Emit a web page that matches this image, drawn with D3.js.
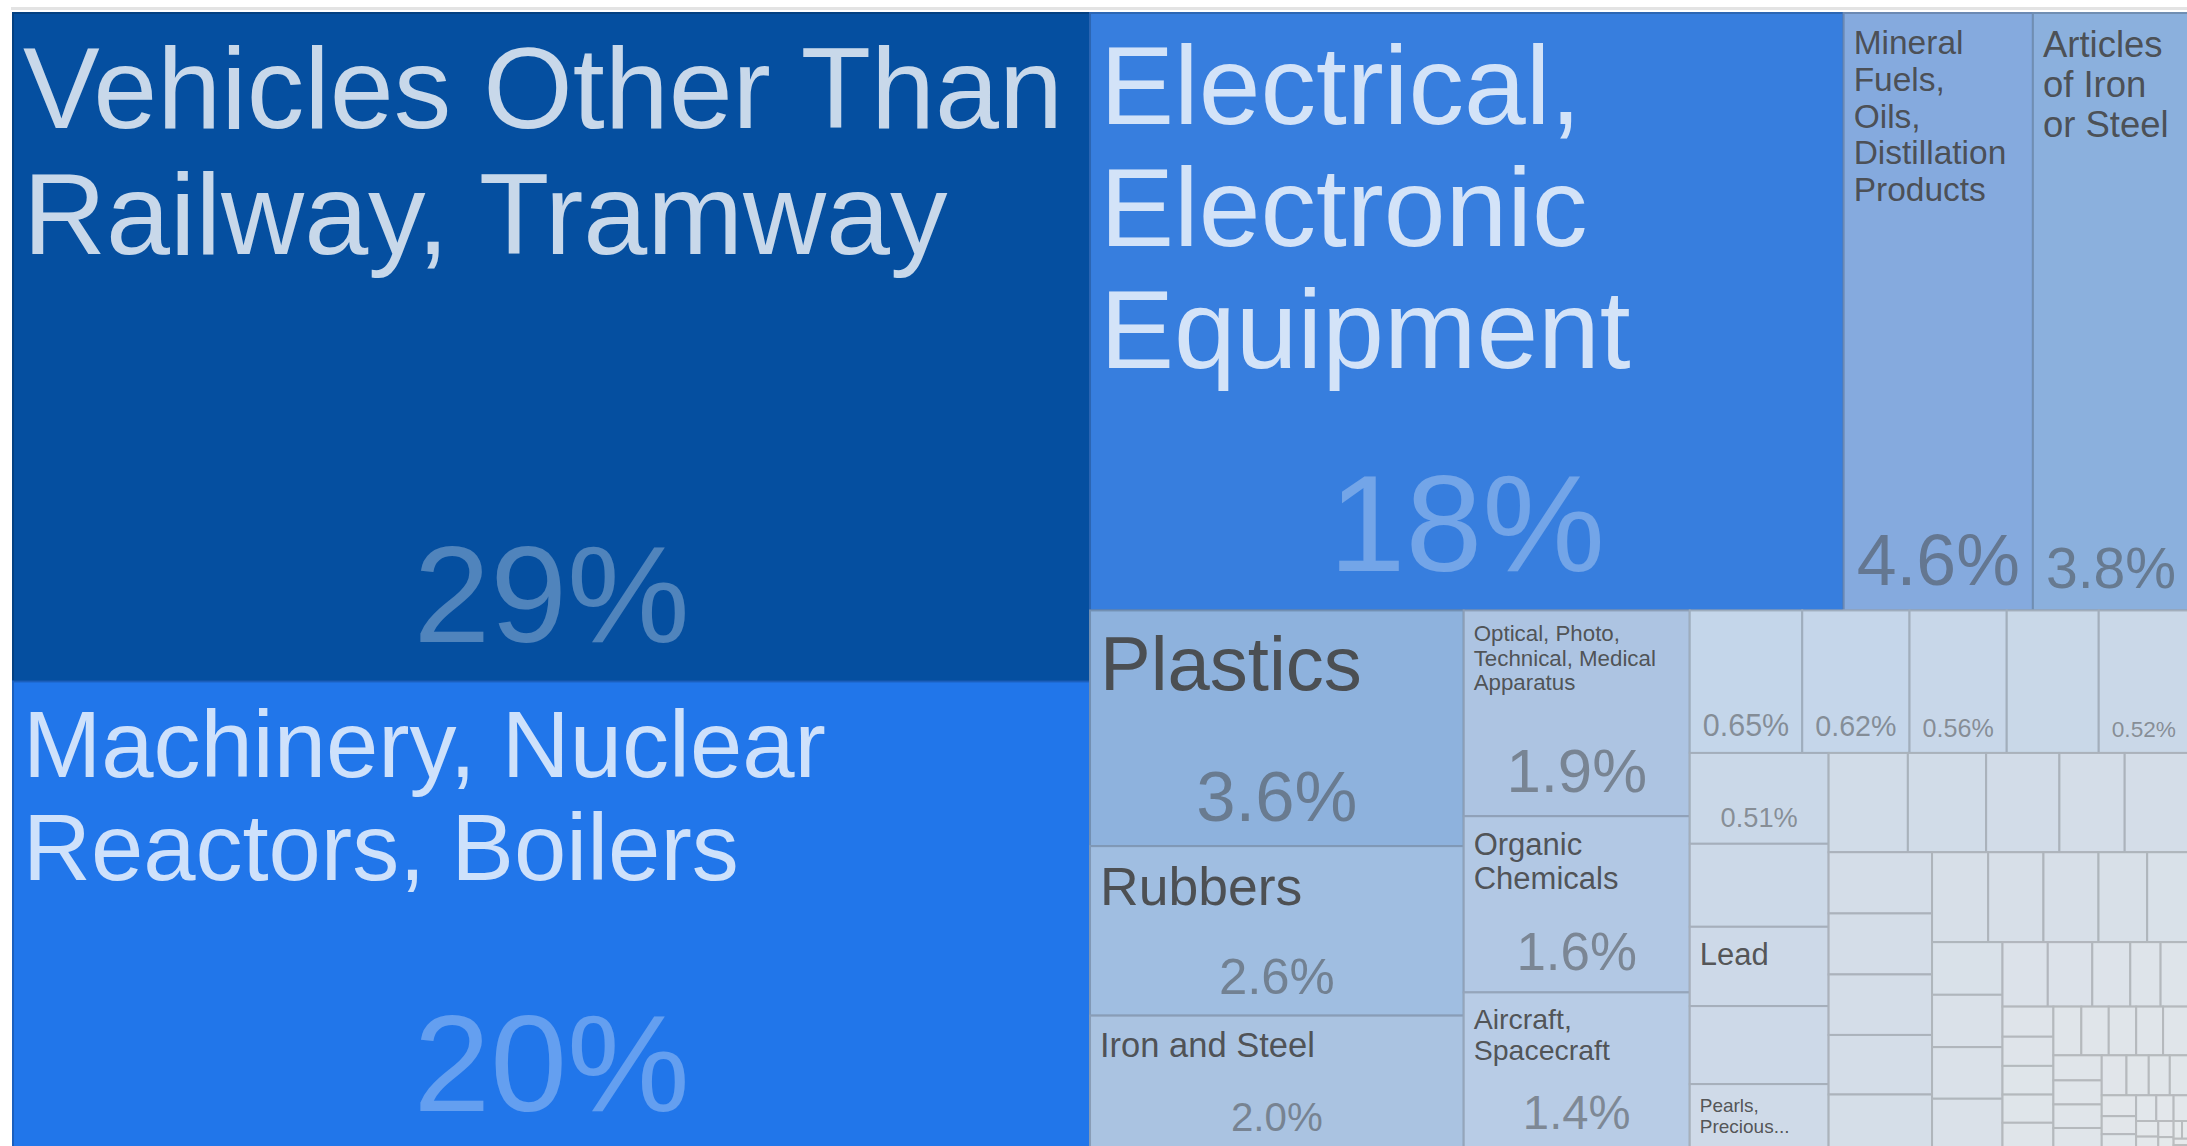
<!DOCTYPE html>
<html>
<head>
<meta charset="utf-8">
<script src="https://cdn.jsdelivr.net/npm/d3@7"></script>
<style>
html, body { margin: 0; padding: 0; background: #ffffff; overflow: hidden; }
svg { display: block; }
text { font-family: "Liberation Sans", Arial, Helvetica, sans-serif; }
</style>
</head>
<body>
<svg id="chart" width="2187" height="1146"></svg>
<script>
// ---------------- DATA (shares of total, %) ----------------
// named categories (the remaining, smaller cells carry no visible name)
const categories = [
  "Vehicles Other Than Railway, Tramway",
  "Machinery, Nuclear Reactors, Boilers",
  "Electrical, Electronic Equipment",
  "Mineral Fuels, Oils, Distillation Products",
  "Articles of Iron or Steel",
  "Plastics",
  "Rubbers",
  "Iron and Steel",
  "Optical, Photo, Technical, Medical Apparatus",
  "Organic Chemicals",
  "Aircraft, Spacecraft",
  "", "", "", "", "",
  "", "", "Lead", "", "Pearls, Precious Stones, Metals"
];
const shares = [
  29.1, 20.4, 18.2, 4.57, 3.77, 3.56, 2.56, 2.03, 1.88, 1.61, 1.44,
  0.648, 0.618, 0.56, 0.53, 0.52,
  0.51, 0.466, 0.445, 0.438, 0.37,
  0.318, 0.314, 0.294, 0.262, 0.258,
  0.256, 0.255, 0.253, 0.249, 0.232,
  0.204, 0.201, 0.200, 0.177, 0.152,
  0.150, 0.149, 0.147, 0.146,
  0.118, 0.116, 0.099, 0.079, 0.074,
  0.062, 0.060, 0.059, 0.058, 0.056,
  0.055, 0.054, 0.054, 0.053, 0.051,
  0.049, 0.047, 0.046, 0.043, 0.040, 0.036, 0.034, 0.031, 0.029, 0.025, 0.022,
  0.021, 0.018, 0.016, 0.014, 0.012, 0.010, 0.008, 0.006, 0.005, 0.004, 0.003
];
// which cells display their share label
const shareShown = [
  true, true, true, true, true, true, true, true, true, true, true,
  true, true, true, false, true,
  true
];

// ---------------- STYLE ----------------
const nameFontSize = {
  "Vehicles Other Than Railway, Tramway": 115,
  "Machinery, Nuclear Reactors, Boilers": 94,
  "Electrical, Electronic Equipment": 111,
  "Mineral Fuels, Oils, Distillation Products": 33.5,
  "Articles of Iron or Steel": 36.5,
  "Plastics": 76,
  "Rubbers": 53.5,
  "Iron and Steel": 34.5,
  "Optical, Photo, Technical, Medical Apparatus": 22.3,
  "Organic Chemicals": 31,
  "Aircraft, Spacecraft": 28.5,
  "Lead": 31,
  "Pearls, Precious Stones, Metals": 19
};
const colorStops = [0.003, 0.05, 0.1, 0.2, 0.3, 0.5, 0.64, 1.44, 1.6, 2.0, 2.56, 3.6, 4.57, 18.2, 20.4, 29.1];
const colorRange = ["#e8ebec", "#e0e5ea", "#dde3ea", "#d7dfe8", "#d2dce8", "#cbd8e8", "#c4d6ea",
  "#b8cce6", "#b2c8e4", "#abc3e1", "#a0bee1", "#8db2dd", "#85aade", "#377ede", "#2176ea", "#054fa0"];

const X0 = 13, Y0 = 13, W = 2176, H = 1137;
const FONT = '"Liberation Sans", Arial, Helvetica, sans-serif';

const color = d3.scaleLog().domain(colorStops).range(colorRange).clamp(true);
const fmt = d3.format(".2r");

const data = shares.map((v, i) => ({ name: categories[i] || "", value: v, show: !!shareShown[i] }));
const root = d3.hierarchy({ children: data })
  .sum(d => d.value || 0)
  .sort((a, b) => b.value - a.value);
d3.treemap().tile(d3.treemapSquarify).size([W, H]).round(false)(root);

const svg = d3.select("#chart");
// thin grey rule above the chart
svg.append("rect").attr("x", 11).attr("y", 7).attr("width", 2176).attr("height", 3).attr("fill", "#e3e3e3");

const g = svg.append("g").attr("transform", `translate(${X0},${Y0})`);

const ctx = document.createElement("canvas").getContext("2d");
function tw(str, size) {
  ctx.font = `100px ${FONT}`;
  return ctx.measureText(str).width * size / 100;
}
function wrap(str, size, maxW) {
  const words = str.split(" ");
  const lines = [];
  let line = "";
  for (const w of words) {
    const t = line ? line + " " + w : w;
    if (!line || tw(t, size) <= maxW) line = t;
    else { lines.push(line); line = w; }
  }
  if (line) lines.push(line);
  return lines;
}

const leaves = root.leaves();
const cell = g.selectAll("g.cell").data(leaves).join("g").attr("class", "cell");

cell.append("rect")
  .attr("x", d => d.x0).attr("y", d => d.y0)
  .attr("width", d => Math.max(0, d.x1 - d.x0))
  .attr("height", d => Math.max(0, d.y1 - d.y0))
  .attr("fill", d => color(d.value))
  .attr("stroke", d => d3.color(color(d.value)).darker(0.6))
  .attr("stroke-width", 2);

function isDark(d) { return d3.hsl(color(d.value)).l < 0.6; }

const PAD_X = 10, PAD_Y = 10.5, LINE = 1.1;

// name labels
cell.each(function (d) {
  const size = nameFontSize[d.data.name];
  if (!size) return;
  const w = d.x1 - d.x0, h = d.y1 - d.y0;
  let lines = wrap(d.data.name, size, w - 22);
  const lh = LINE * size;
  const maxLines = Math.max(1, Math.floor((h - PAD_Y - 0.905 * size - 0.212 * size) / lh) + 1);
  if (lines.length > maxLines) {
    lines = lines.slice(0, maxLines);
    lines[maxLines - 1] = lines[maxLines - 1] + "...";
  }
  const dark = isDark(d);
  const t = d3.select(this).append("text")
    .attr("font-size", size)
    .attr("fill", dark ? "#ffffff" : "#444444")
    .attr("fill-opacity", dark ? 0.78 : 0.9);
  lines.forEach((ln, i) => {
    t.append("tspan")
      .attr("x", d.x0 + PAD_X)
      .attr("y", d.y0 + PAD_Y + 0.905 * size + i * lh)
      .text(ln);
  });
});

// share labels
cell.each(function (d) {
  if (!d.data.show) return;
  const w = d.x1 - d.x0, h = d.y1 - d.y0;
  const txt = fmt(d.value) + "%";
  const size = Math.min(138, (w - 26) / tw(txt, 1), 0.3 * h);
  if (size < 8) return;
  const dark = isDark(d);
  d3.select(this).append("text")
    .attr("x", (d.x0 + d.x1) / 2)
    .attr("y", d.y1 - (11 + 0.2065 * size))
    .attr("text-anchor", "middle")
    .attr("font-size", size)
    .attr("fill", dark ? "#ffffff" : "#444444")
    .attr("fill-opacity", dark ? 0.3 : 0.5)
    .text(txt);
});
</script>
</body>
</html>
